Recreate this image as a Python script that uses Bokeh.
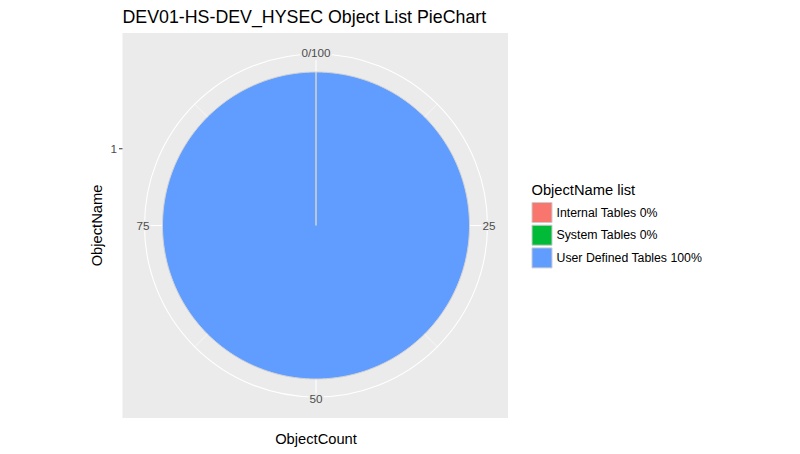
import numpy as np
from bokeh.plotting import figure
from bokeh.models import Range1d
from bokeh.core.properties import value
from bokeh.embed import file_html
from bokeh.resources import INLINE

# ---- data ----
categories = ["Internal Tables", "System Tables", "User Defined Tables"]
counts = [0, 0, 100]
colors = ["#F8766D", "#00BA38", "#619CFF"]
theta_ticks = [0, 25, 50, 75]
theta_tick_labels = ["0/100", "25", "50", "75"]
theta_minor = [12.5, 37.5, 62.5, 87.5]
r_tick_labels = ["1"]
title = "DEV01-HS-DEV_HYSEC Object List PieChart"
x_title = "ObjectCount"
y_title = "ObjectName"
legend_title = "ObjectName list"

H = 454  # data y = H - pixel y
FONT = value("Liberation Sans")

p = figure(width=800, height=454, x_range=Range1d(0, 800), y_range=Range1d(0, 454),
           output_backend="svg", toolbar_location=None, min_border=0)
p.axis.visible = False
p.grid.visible = False
p.outline_line_color = None
p.background_fill_color = "white"
p.border_fill_color = "white"

# panel
p.quad(left=122, right=507.5, bottom=H - 417.5, top=H - 32.5, fill_color="#EBEBEB", line_color=None)

cx, cy = 315.5, H - 225
R_pie = 153.5
R_grid = 171.5
R_lab = 173

def ang(v):
    return np.pi / 2 - 2 * np.pi * np.asarray(v, dtype=float) / 100.0

# grid: minor radial lines
ma = ang(theta_minor)
p.segment(x0=[cx] * len(ma), y0=[cy] * len(ma), x1=cx + R_grid * np.cos(ma), y1=cy + R_grid * np.sin(ma),
          line_color="white", line_width=0.6)
# major radial
Ma = ang(theta_ticks)
p.segment(x0=[cx] * len(Ma), y0=[cy] * len(Ma), x1=cx + R_grid * np.cos(Ma), y1=cy + R_grid * np.sin(Ma),
          line_color="white", line_width=1.1)
# outer circle
p.circle(x=[cx], y=[cy], radius=R_grid, fill_color=None, line_color="white", line_width=1.1)

# pie slices as polygons built from the values
total = float(sum(counts))
cum = np.cumsum([0] + counts)
pct = [f"{round(c / total * 100):.0f}%" for c in counts]
xs, ys, fc = [], [], []
for i, c in enumerate(counts):
    if c <= 0:
        continue
    a = ang(np.linspace(cum[i], cum[i + 1], 361) / total * 100)
    xs.append([cx] + list(cx + R_pie * np.cos(a)) + [cx])
    ys.append([cy] + list(cy + R_pie * np.sin(a)) + [cy])
    fc.append(colors[i])
p.patches(xs=xs, ys=ys, fill_color=fc, line_color="#D3D3D3", line_width=1)

# theta tick labels
p.text(x=cx + R_lab * np.cos(Ma), y=cy + R_lab * np.sin(Ma), text=theta_tick_labels,
       text_align="center", text_baseline="middle", text_font=FONT, text_font_size="11.7px",
       text_color="#4D4D4D", background_fill_color="#EBEBEB", padding=1)

# r axis tick "1" (middle of bar radius)
r_pos = [cy + R_pie / 2]
p.text(x=[116.5], y=r_pos, text=r_tick_labels, text_align="right", text_baseline="middle",
       text_font=FONT, text_font_size="11.7px", text_color="#4D4D4D")
p.segment(x0=[118.5], y0=r_pos, x1=[122], y1=r_pos, line_color="#333333", line_width=1)

# titles
p.text(x=[122], y=[H - 16], text=[title], text_align="left", text_baseline="middle",
       text_font=FONT, text_font_size="17.8px", text_color="black")
p.text(x=[315.5], y=[H - 438], text=[x_title], text_align="center", text_baseline="middle",
       text_font=FONT, text_font_size="14.7px", text_color="black")
p.text(x=[96], y=[H - 225], text=[y_title], angle=np.pi / 2, text_align="center",
       text_baseline="middle", text_font=FONT, text_font_size="14.7px", text_color="black")

# legend
p.text(x=[531], y=[H - 189], text=[legend_title], text_align="left", text_baseline="middle",
       text_font=FONT, text_font_size="14.7px", text_color="black")
ky = [H - (212 + 22.7 * i) for i in range(len(categories))]
p.rect(x=[541.5] * len(ky), y=ky, width=20, height=20, fill_color=colors, line_color="#CCCCCC", line_width=1)
p.text(x=[556] * len(ky), y=ky, text=[f"{c} {q}" for c, q in zip(categories, pct)], text_align="left",
       text_baseline="middle", text_font=FONT, text_font_size="12.3px", text_color="black")

open("out.html", "w").write(file_html(p, INLINE))
